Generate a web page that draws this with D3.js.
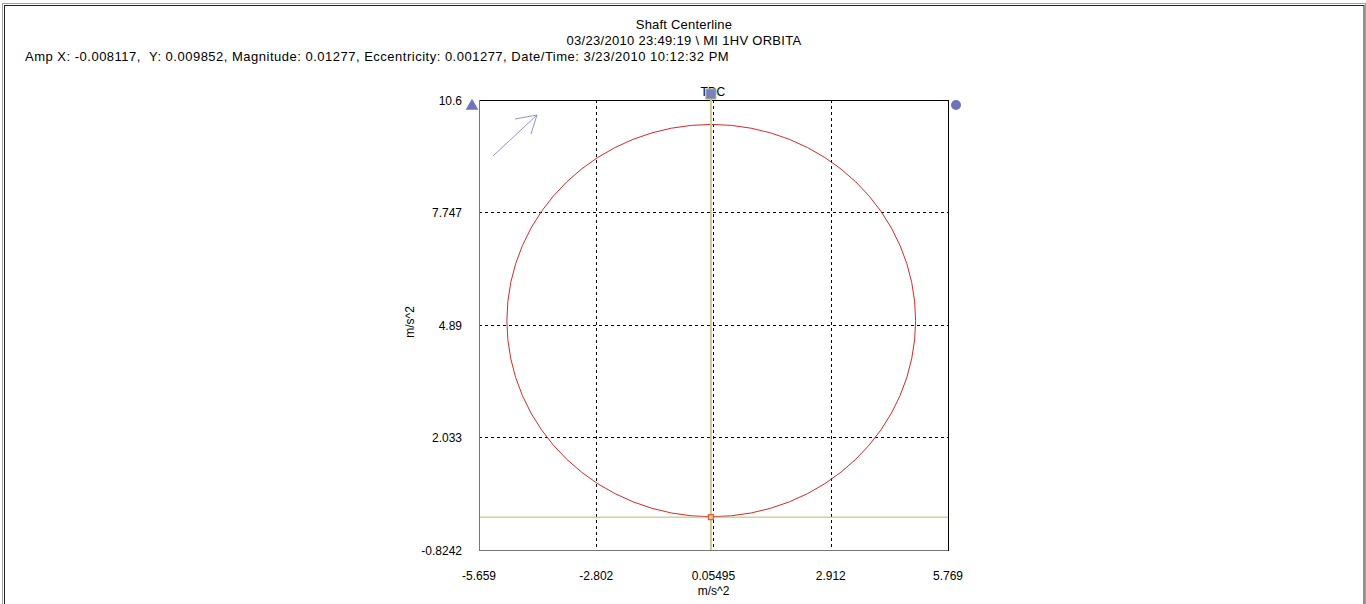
<!DOCTYPE html>
<html>
<head>
<meta charset="utf-8">
<script src="https://cdn.jsdelivr.net/npm/d3@7"></script>
<style>
  html, body { margin: 0; padding: 0; background: #fff; }
  svg text { font-family: "Liberation Sans", Arial, sans-serif; font-size: 12px; fill: #000; white-space: pre; }
  svg text.head { font-size: 13px; }
</style>
</head>
<body>
<svg id="chart" width="1366" height="604"></svg>
<script>
// chart data
const titleLines = ["Shaft Centerline", "03/23/2010 23:49:19 \\ MI 1HV ORBITA"];
const infoLine = "Amp X: -0.008117,  Y: 0.009852, Magnitude: 0.01277, Eccentricity: 0.001277, Date/Time: 3/23/2010 10:12:32 PM";
const xTicks = [-5.659, -2.802, 0.05495, 2.912, 5.769];
const yTicks = [-0.8242, 2.033, 4.89, 7.747, 10.6];
const xTickLabels = ["-5.659", "-2.802", "0.05495", "2.912", "5.769"];
const yTickLabels = ["-0.8242", "2.033", "4.89", "7.747", "10.6"];
const clearanceCenter = [0, 5];
const clearanceRadius = 4.98;
const ampPoint = [-0.008117, 0.009852];
const axisLabel = "m/s^2";

const svg = d3.select("#chart");

// window frame
svg.append("rect").attr("x", 2.5).attr("y", 3.5).attr("width", 1363).attr("height", 610)
  .attr("fill", "none").attr("stroke", "#a0a0a0");
svg.append("rect").attr("x", 4.5).attr("y", 5.5).attr("width", 1359.5).attr("height", 610)
  .attr("fill", "none").attr("stroke", "#222");

// titles
svg.selectAll(".title").data(titleLines).join("text")
  .attr("class", "head")
  .attr("x", 684).attr("y", (d, i) => 29 + i * 16)
  .attr("letter-spacing", (d, i) => i ? 0.3 : 0.2)
  .attr("text-anchor", "middle").text(d => d);
svg.append("text").attr("class", "head").attr("x", 25).attr("y", 61)
  .attr("letter-spacing", 0.5).text(infoLine);

const pLeft = 479, pRight = 948, pTop = 100, pBottom = 550;
const x = d3.scaleLinear().domain([xTicks[0], xTicks[xTicks.length - 1]]).range([pLeft, pRight]);
const y = d3.scaleLinear().domain([yTicks[0], yTicks[yTicks.length - 1]]).range([pBottom, pTop]);

// grid
const grid = svg.append("g").attr("stroke", "#000").attr("stroke-dasharray", "3,3");
grid.selectAll(".gx").data(xTicks.slice(1, -1)).join("line")
  .attr("x1", d => Math.round(x(d)) + 0.5).attr("x2", d => Math.round(x(d)) + 0.5)
  .attr("y1", pTop).attr("y2", pBottom);
grid.selectAll(".gy").data(yTicks.slice(1, -1)).join("line")
  .attr("y1", d => Math.round(y(d)) + 0.5).attr("y2", d => Math.round(y(d)) + 0.5)
  .attr("x1", pLeft).attr("x2", pRight);

// plot frame: dark top/right, grey left/bottom
svg.append("line").attr("x1", pLeft).attr("x2", pRight + 0.5).attr("y1", pTop + 0.5).attr("y2", pTop + 0.5).attr("stroke", "#000");
svg.append("line").attr("x1", pRight + 0.5).attr("x2", pRight + 0.5).attr("y1", pTop).attr("y2", pBottom + 1).attr("stroke", "#000");
svg.append("line").attr("x1", pLeft + 0.5).attr("x2", pLeft + 0.5).attr("y1", pTop).attr("y2", pBottom + 1).attr("stroke", "#777");
svg.append("line").attr("x1", pLeft).attr("x2", pRight).attr("y1", pBottom + 0.5).attr("y2", pBottom + 0.5).attr("stroke", "#777");

// tick labels
svg.selectAll(".xl").data(xTicks).join("text")
  .attr("x", d => x(d)).attr("y", 580).attr("text-anchor", "middle")
  .text((d, i) => xTickLabels[i]);
svg.selectAll(".yl").data(yTicks).join("text")
  .attr("x", 462).attr("y", d => y(d) + 5).attr("text-anchor", "end")
  .text((d, i) => yTickLabels[i]);

// axis titles
svg.append("text").attr("x", x(xTicks[2])).attr("y", 595).attr("text-anchor", "middle").text(axisLabel);
svg.append("text").attr("transform", "translate(414,322) rotate(-90)").attr("text-anchor", "middle").text(axisLabel);

// clearance circle
svg.append("ellipse")
  .attr("cx", x(clearanceCenter[0])).attr("cy", y(clearanceCenter[1]))
  .attr("rx", x(clearanceCenter[0] + clearanceRadius) - x(clearanceCenter[0]))
  .attr("ry", y(clearanceCenter[1]) - y(clearanceCenter[1] + clearanceRadius))
  .attr("fill", "none").attr("stroke", "#d42a2a").attr("stroke-width", 1);

// cursor lines through the amp point
const px = x(ampPoint[0]), py = y(ampPoint[1]);
svg.append("line").attr("x1", pLeft + 1).attr("x2", pRight).attr("y1", py).attr("y2", py)
  .attr("stroke", "#b8b878").attr("stroke-width", 1);
svg.append("line").attr("x1", px).attr("x2", px).attr("y1", pTop - 6).attr("y2", pBottom)
  .attr("stroke", "#cccc88").attr("stroke-width", 2);
svg.append("rect").attr("x", px - 2.5).attr("y", py - 2.5).attr("width", 5).attr("height", 5)
  .attr("fill", "#f0c0a0").attr("stroke", "#e0602a").attr("stroke-width", 1.2);

// TDC marker
svg.append("text").attr("x", px + 2).attr("y", 96).attr("text-anchor", "middle").text("TDC");
svg.append("rect").attr("x", px - 5).attr("y", 89).attr("width", 10).attr("height", 10)
  .attr("fill", "#7b80c4").attr("stroke", "#b8b860").attr("stroke-width", 1);

// corner markers
svg.append("path").attr("d", d3.symbol(d3.symbolTriangle, 70)())
  .attr("transform", `translate(${pLeft - 7},${pTop + 6})`).attr("fill", "#6f73bd");
svg.append("circle").attr("cx", pRight + 8).attr("cy", pTop + 5).attr("r", 5).attr("fill", "#6f73bd");

// rotation arrow
const arrow = svg.append("g").attr("stroke", "#8f92d6").attr("stroke-width", 1).attr("fill", "none");
arrow.append("line").attr("x1", pLeft + 14).attr("y1", pTop + 56).attr("x2", pLeft + 58).attr("y2", pTop + 15);
arrow.append("line").attr("x1", pLeft + 58).attr("y1", pTop + 15).attr("x2", pLeft + 36).attr("y2", pTop + 19);
arrow.append("line").attr("x1", pLeft + 58).attr("y1", pTop + 15).attr("x2", pLeft + 52).attr("y2", pTop + 34);
</script>
</body>
</html>
